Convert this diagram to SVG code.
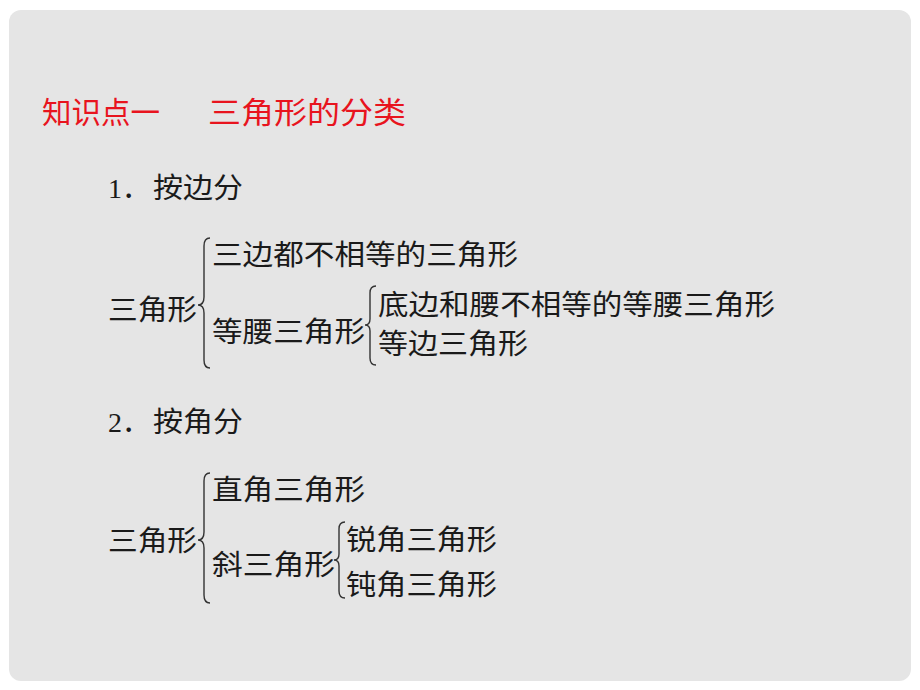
<svg xmlns="http://www.w3.org/2000/svg" width="920" height="690" viewBox="0 0 920 690">
<style>
.t{font-family:"Liberation Serif","Noto Sans CJK SC",serif;font-size:28px;fill:#1a1a1a}
.r{font-family:"Liberation Serif","Noto Sans CJK SC",serif;font-size:30px;fill:#e8141e}
.b{fill:none;stroke:#333;stroke-width:1.4}
</style>
<rect x="0" y="0" width="920" height="690" fill="#ffffff"/>
<rect x="9" y="10" width="902" height="671" rx="12" fill="#e5e5e5"/>
<g id="title">
<text class="r" x="42" y="123" textLength="118" lengthAdjust="spacingAndGlyphs">知识点一</text>
<text class="r" x="208" y="123" textLength="198" lengthAdjust="spacingAndGlyphs">三角形的分类</text>
</g>
<g id="sec1">
<text class="t" x="108" y="198" font-size="29">1．</text>
<text class="t" x="153" y="198" textLength="90" lengthAdjust="spacingAndGlyphs">按边分</text>
</g>
<g id="n1-root"><text class="t" x="108" y="320" textLength="89" lengthAdjust="spacingAndGlyphs">三角形</text></g>
<g id="n1-scalene"><text class="t" x="212" y="265" textLength="306" lengthAdjust="spacingAndGlyphs">三边都不相等的三角形</text></g>
<g id="n1-iso"><text class="t" x="212" y="342" textLength="153" lengthAdjust="spacingAndGlyphs">等腰三角形</text></g>
<g id="n1-iso1"><text class="t" x="378" y="315" textLength="397" lengthAdjust="spacingAndGlyphs">底边和腰不相等的等腰三角形</text></g>
<g id="n1-equi"><text class="t" x="378" y="354" textLength="150" lengthAdjust="spacingAndGlyphs">等边三角形</text></g>
<g id="sec2">
<text class="t" x="108" y="432" font-size="29">2．</text>
<text class="t" x="153" y="432" textLength="90" lengthAdjust="spacingAndGlyphs">按角分</text>
</g>
<g id="n2-root"><text class="t" x="108" y="551" textLength="89" lengthAdjust="spacingAndGlyphs">三角形</text></g>
<g id="n2-right"><text class="t" x="212" y="500" textLength="153" lengthAdjust="spacingAndGlyphs">直角三角形</text></g>
<g id="n2-oblique"><text class="t" x="212" y="575" textLength="123" lengthAdjust="spacingAndGlyphs">斜三角形</text></g>
<g id="n2-acute"><text class="t" x="346" y="550" textLength="151" lengthAdjust="spacingAndGlyphs">锐角三角形</text></g>
<g id="n2-obtuse"><text class="t" x="346" y="595" textLength="151" lengthAdjust="spacingAndGlyphs">钝角三角形</text></g>
<g id="connectors">
<path class="b" d="M210,238 Q204,238 204,246 L204,297 Q204,305 198,305 Q204,305 204,313 L204,360 Q204,368 210,368"/>
<path class="b" d="M376,286 Q370,286 370,293 L370,319 Q370,325 365,325 Q370,325 370,331 L370,358 Q370,365 376,365"/>
<path class="b" d="M210,473 Q204,473 204,481 L204,532 Q204,540 198,540 Q204,540 204,548 L204,595 Q204,603 210,603"/>
<path class="b" d="M345,522 Q339,522 339,529 L339,554 Q339,560 334,560 Q339,560 339,566 L339,591 Q339,598 345,598"/>
</g>
</svg>
